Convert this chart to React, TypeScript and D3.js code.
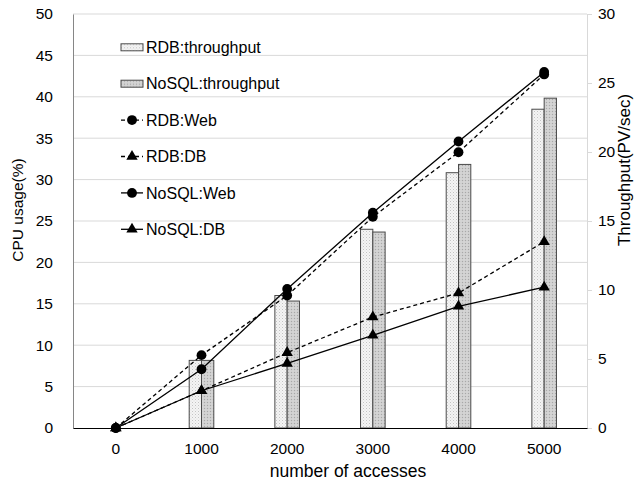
import React, { useRef, useEffect } from 'react';
import * as d3 from 'd3';

const categories = ['0', '1000', '2000', '3000', '4000', '5000'];
// throughput bars (right axis, PV/sec)
const rdbThroughput = [0, 4.9, 9.6, 14.4, 18.5, 23.1];
const nosqlThroughput = [0, 4.9, 9.2, 14.2, 19.1, 23.9];
// CPU usage lines (left axis, %)
const rdbWeb = [0, 8.8, 16.0, 25.5, 33.3, 42.7];
const rdbDb = [0, 4.5, 9.1, 13.4, 16.3, 22.5];
const nosqlWeb = [0, 7.1, 16.8, 26.0, 34.6, 43.0];
const nosqlDb = [0, 4.5, 7.8, 11.2, 14.7, 17.0];
const leftTicks = [0, 5, 10, 15, 20, 25, 30, 35, 40, 45, 50];
const rightTicks = [0, 5, 10, 15, 20, 25, 30];

const font = "Arial, 'Liberation Sans', sans-serif";

function App() {
  const svgRef = useRef(null);

  useEffect(() => {
    const svg = d3.select(svgRef.current);
    svg.selectAll('*').remove();

    const width = 643;
    const height = 484;
    const margin = { top: 14, right: 56, bottom: 56, left: 73 };

    const x = d3.scaleBand()
      .domain(categories)
      .range([margin.left, width - margin.right])
      .padding(0);

    const yLeft = d3.scaleLinear().domain([0, 50]).range([height - margin.bottom, margin.top]);
    const yRight = d3.scaleLinear().domain([0, 30]).range([height - margin.bottom, margin.top]);

    const barW = 12.3;
    const inner = d3.scaleBand().domain(['RDB', 'NoSQL']).range([-barW, barW]).padding(0);

    // dotted fills for the bars
    const defs = svg.append('defs');
    const p1 = defs.append('pattern').attr('id', 'patRdb').attr('width', 3).attr('height', 3)
      .attr('patternUnits', 'userSpaceOnUse');
    p1.append('rect').attr('width', 3).attr('height', 3).attr('fill', '#f4f4f4');
    p1.append('rect').attr('x', 0).attr('y', 0).attr('width', 1).attr('height', 1).attr('fill', '#c4c4c4');
    p1.append('rect').attr('x', 1.5).attr('y', 1.5).attr('width', 1).attr('height', 1).attr('fill', '#dadada');
    const p2 = defs.append('pattern').attr('id', 'patNosql').attr('width', 3).attr('height', 3)
      .attr('patternUnits', 'userSpaceOnUse');
    p2.append('rect').attr('width', 3).attr('height', 3).attr('fill', '#cfcfcf');
    p2.append('rect').attr('x', 0).attr('y', 0).attr('width', 1).attr('height', 1).attr('fill', '#a8a8a8');
    p2.append('rect').attr('x', 1.5).attr('y', 1.5).attr('width', 1).attr('height', 1).attr('fill', '#e4e4e4');

    // gridlines
    svg.append('g')
      .selectAll('line')
      .data(leftTicks.filter(d => d > 0))
      .join('line')
      .attr('x1', margin.left)
      .attr('x2', width - margin.right)
      .attr('y1', d => yLeft(d))
      .attr('y2', d => yLeft(d))
      .attr('stroke', '#d9d9d9')
      .attr('stroke-width', 1);

    // bars
    const barData = [
      { key: 'RDB', values: rdbThroughput, fill: 'url(#patRdb)' },
      { key: 'NoSQL', values: nosqlThroughput, fill: 'url(#patNosql)' },
    ];
    barData.forEach(s => {
      svg.append('g')
        .selectAll('rect')
        .data(s.values.map((v, i) => ({ c: categories[i], v })).filter(d => d.v > 0))
        .join('rect')
        .attr('x', d => x(d.c) + x.bandwidth() / 2 + inner(s.key))
        .attr('y', d => yRight(d.v))
        .attr('width', inner.bandwidth())
        .attr('height', d => yRight(0) - yRight(d.v))
        .attr('fill', s.fill)
        .attr('stroke', '#4a4a4a')
        .attr('stroke-width', 1);
    });

    // left axis
    const gl = svg.append('g')
      .attr('transform', `translate(${margin.left},0)`)
      .call(d3.axisLeft(yLeft).tickValues(leftTicks).tickSize(0).tickPadding(20));
    gl.select('.domain').attr('stroke', '#868686');
    gl.selectAll('text').attr('font-size', 15.5).attr('font-family', font).attr('fill', '#000');

    // right axis
    const gr = svg.append('g')
      .attr('transform', `translate(${width - margin.right},0)`)
      .call(d3.axisRight(yRight).tickValues(rightTicks).tickSizeInner(5).tickSizeOuter(0).tickPadding(6));
    gr.select('.domain').attr('stroke', '#d9d9d9');
    gr.selectAll('.tick line').attr('stroke', '#d9d9d9');
    gr.selectAll('text').attr('font-size', 15.5).attr('font-family', font).attr('fill', '#000');

    // bottom axis
    const gb = svg.append('g')
      .attr('transform', `translate(0,${height - margin.bottom})`)
      .call(d3.axisBottom(x).tickSize(0).tickPadding(15));
    gb.select('.domain').attr('stroke', '#000').attr('stroke-width', 1.2);
    gb.selectAll('text').attr('font-size', 15.5).attr('font-family', font).attr('fill', '#000');

    // lines
    const lineSeries = [
      { name: 'RDB:Web', values: rdbWeb, dash: '4,3', marker: 'circle' },
      { name: 'RDB:DB', values: rdbDb, dash: '4,3', marker: 'triangle' },
      { name: 'NoSQL:Web', values: nosqlWeb, dash: null, marker: 'circle' },
      { name: 'NoSQL:DB', values: nosqlDb, dash: null, marker: 'triangle' },
    ];
    const cx = (c) => x(c) + x.bandwidth() / 2;
    const line = d3.line().x(d => cx(d.c)).y(d => yLeft(d.v));
    const circleSym = d3.symbol().type(d3.symbolCircle).size(76);
    const triSym = d3.symbol().type(d3.symbolTriangle).size(56);

    lineSeries.forEach(s => {
      const pts = s.values.map((v, i) => ({ c: categories[i], v }));
      svg.append('path')
        .datum(pts)
        .attr('d', line)
        .attr('fill', 'none')
        .attr('stroke', '#000')
        .attr('stroke-width', 1.3)
        .attr('stroke-dasharray', s.dash);
      svg.append('g')
        .selectAll('path')
        .data(pts)
        .join('path')
        .attr('transform', d => `translate(${cx(d.c)},${yLeft(d.v)})`)
        .attr('d', s.marker === 'circle' ? circleSym() : triSym())
        .attr('fill', '#000');
    });

    // legend
    const legendItems = [
      { name: 'RDB:throughput', type: 'bar', fill: 'url(#patRdb)' },
      { name: 'NoSQL:throughput', type: 'bar', fill: 'url(#patNosql)' },
      ...lineSeries.map(s => ({ name: s.name, type: 'line', dash: s.dash, marker: s.marker })),
    ];
    const lg = svg.append('g');
    legendItems.forEach((it, i) => {
      const ly = 47.3 + i * 36.4;
      const g = lg.append('g').attr('transform', `translate(121,${ly})`);
      if (it.type === 'bar') {
        g.append('rect').attr('x', 0).attr('y', -3.5).attr('width', 22).attr('height', 7)
          .attr('fill', it.fill).attr('stroke', '#4a4a4a').attr('stroke-width', 1);
      } else {
        g.append('line').attr('x1', 0).attr('x2', 22).attr('y1', 0).attr('y2', 0)
          .attr('stroke', '#000').attr('stroke-width', 1.3).attr('stroke-dasharray', it.dash);
        g.append('path').attr('transform', 'translate(11,0)')
          .attr('d', it.marker === 'circle' ? circleSym() : triSym()).attr('fill', '#000');
      }
      g.append('text').attr('x', 25).attr('y', 0).attr('dy', '0.35em')
        .attr('font-size', 16).attr('font-family', font).text(it.name);
    });

    // axis titles
    svg.append('text')
      .attr('x', 348)
      .attr('y', 477)
      .attr('text-anchor', 'middle')
      .attr('font-size', 17.5)
      .attr('font-family', font)
      .text('number of accesses');

    svg.append('text')
      .attr('transform', 'translate(23,210) rotate(-90)')
      .attr('text-anchor', 'middle')
      .attr('font-size', 15.5)
      .attr('font-family', font)
      .text('CPU usage(%)');

    svg.append('text')
      .attr('transform', 'translate(630,170) rotate(-90)')
      .attr('text-anchor', 'middle')
      .attr('font-size', 17)
      .attr('font-family', font)
      .text('Throughput(PV/sec)');
  }, []);

  return (
    <svg ref={svgRef} width={643} height={484}
      style={{ position: 'absolute', left: 0, top: 0, background: '#fff' }}></svg>
  );
}

export default App;
